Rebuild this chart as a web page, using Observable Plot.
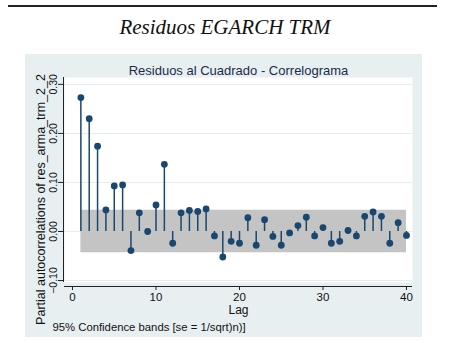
<!DOCTYPE html>
<html><head><meta charset="utf-8">
<script src="https://cdn.jsdelivr.net/npm/d3@7"></script>
<script src="https://cdn.jsdelivr.net/npm/@observablehq/plot@0.6"></script>
<style>
body{margin:0;background:#fff;width:450px;height:343px;position:relative;overflow:hidden;font-family:"Liberation Sans",Arial,sans-serif}
#rule{position:absolute;left:8px;top:5px;width:429px;height:2px;background:#222}
#title{position:absolute;left:0;top:14px;width:450px;text-align:center;font-family:"Liberation Serif",serif;font-style:italic;font-size:21px;color:#111;line-height:26px}
#chart{position:absolute;left:25px;top:54px}
</style></head><body>
<div id="rule"></div>
<div id="title">Residuos EGARCH TRM</div>
<div id="chart"></div>
<script>
const lags = [1,2,3,4,5,6,7,8,9,10,11,12,13,14,15,16,17,18,19,20,21,22,23,24,25,26,27,28,29,30,31,32,33,34,35,36,37,38,39,40];
const pacf = [0.273,0.230,0.174,0.044,0.093,0.095,-0.039,0.038,0.000,0.054,0.137,-0.024,0.038,0.043,0.041,0.046,-0.009,-0.052,-0.020,-0.024,
              0.028,-0.028,0.024,-0.010,-0.028,-0.003,0.012,0.029,-0.009,0.008,-0.024,-0.020,0.002,-0.009,0.031,0.040,0.031,-0.024,0.018,-0.008];
const ciHalf = 0.0435;
const yTicks = [-0.1, 0, 0.1, 0.2, 0.3];
const xTicks = [0, 10, 20, 30, 40];
const chartTitle = "Residuos al Cuadrado - Correlograma";
const yLabel = "Partial autocorrelations of res_arma_trm_2_2";
const xLabel = "Lag";
const note = "95% Confidence bands [se = 1/sqrt)n)]";

const data = lags.map((l, i) => ({lag: l, v: pacf[i]}));
const navy = "#1a476f";
const xDom = [-0.96, 40.72];
const yDom = [-0.104, 0.314];

const plot = Plot.plot({
  width: 397, height: 283,
  marginLeft: 39, marginRight: 10, marginTop: 23, marginBottom: 55,
  style: {background: "#e8eff1", fontFamily: "Liberation Sans, Arial, sans-serif", overflow: "visible", color: "#111"},
  x: {domain: xDom},
  y: {domain: yDom},
  marks: [
    Plot.frame({fill: "white", stroke: null}),
    Plot.ruleY(yTicks, {y: d => d, stroke: "#e4edf0", strokeWidth: 1}),
    Plot.areaY(lags, {x: d => d, y1: -ciHalf, y2: ciHalf, fill: "#c4c4c4"}),
    Plot.ruleX(data, {x: "lag", y1: 0, y2: "v", stroke: navy, strokeWidth: 1.5}),
    Plot.dot(data, {x: "lag", y: "v", r: 3.4, fill: navy, stroke: null}),
    // axis lines
    Plot.ruleX([xDom[0]], {y1: yDom[0], y2: yDom[1], dx: -1, stroke: "#222", strokeWidth: 1}),
    Plot.ruleY([yDom[0]], {x1: xDom[0], x2: xDom[1], dy: 4, stroke: "#222", strokeWidth: 1}),
    Plot.axisX({ticks: xTicks, tickSize: 4, dy: 4, tickPadding: 2, fontSize: 11.5, label: null, stroke: "#222"}),
    Plot.axisY({ticks: yTicks, tickSize: 5, dx: -1, tickFormat: () => "", label: null, stroke: "#222"}),
    Plot.text(yTicks, {y: d => d, text: d => d3.format(".2f")(d), frameAnchor: "left", textAnchor: "middle", rotate: -90, dx: -11, fontSize: 10.5, fill: "#111"}),
    Plot.text([chartTitle], {frameAnchor: "top", dy: -12, fontSize: 13, fill: "#1c2b4b", style: "letter-spacing:1.25px"}),
    Plot.text([yLabel], {frameAnchor: "left", textAnchor: "middle", rotate: -90, dx: -24, dy: 19.5, fontSize: 12.5, fill: "#111"}),
    Plot.text([xLabel], {frameAnchor: "bottom", dy: 31, fontSize: 12, fill: "#111"}),
    Plot.text([note], {frameAnchor: "bottom-left", dx: -12, dy: 48, textAnchor: "start", fontSize: 11.3, fill: "#111"})
  ]
});
document.getElementById("chart").appendChild(plot);
</script>
</body></html>
